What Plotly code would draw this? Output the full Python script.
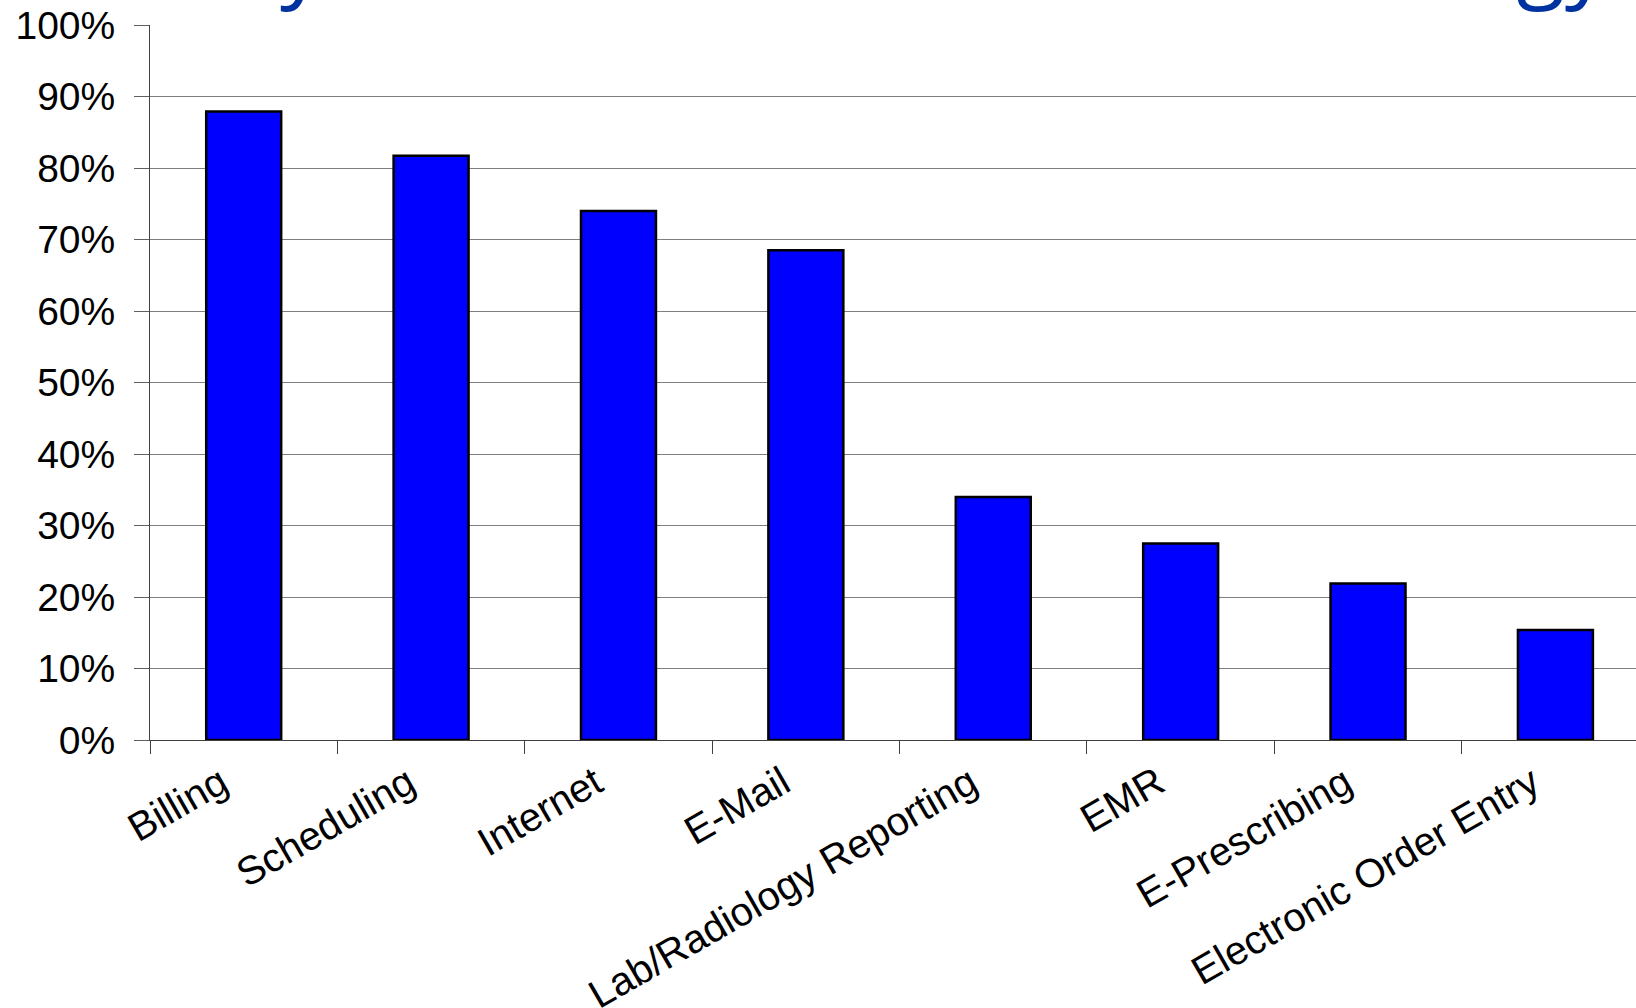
import plotly.graph_objects as go

categories = ["Billing", "Scheduling", "Internet", "E-Mail", "Lab/Radiology Reporting",
              "EMR", "E-Prescribing", "Electronic Order Entry"]
values = [0.879, 0.817, 0.740, 0.685, 0.340, 0.275, 0.219, 0.154]
y_ticks = [0, 0.1, 0.2, 0.3, 0.4, 0.5, 0.6, 0.7, 0.8, 0.9, 1.0]
y_tick_labels = ["0%", "10%", "20%", "30%", "40%", "50%", "60%", "70%", "80%", "90%", "100%"]
title_text = "Physician Office Use of Technology"

fig = go.Figure()
fig.add_trace(go.Bar(
    x=categories, y=values, width=0.4,
    marker=dict(color="#0000FF", line=dict(color="#000000", width=2.5)),
))

font = "Liberation Sans, Arial, sans-serif"
fig.update_layout(
    width=1636, height=1008,
    margin=dict(l=150, r=0, t=25, b=268),
    paper_bgcolor="white", plot_bgcolor="white",
    showlegend=False,
    bargap=0.6,
    font=dict(family=font, size=39, color="black"),
)
fig.update_xaxes(
    type="category", range=[-0.5, 7.43], automargin=False,
    tickangle=-30, tickson="boundaries",
    ticks="outside", ticklen=13, tickwidth=1, tickcolor="#404040",
    showline=True, linecolor="#404040", linewidth=1,
    showgrid=False, ticklabelshift=-23, ticklabelstandoff=3,
    tickfont=dict(family=font, size=40, color="black"),
)
fig.update_yaxes(
    range=[0, 1], tickvals=y_ticks, ticktext=y_tick_labels, automargin=False,
    ticks="outside", ticklen=15, tickwidth=1, tickcolor="#606060",
    showline=True, linecolor="#404040", linewidth=1,
    showgrid=True, gridcolor="#7f7f7f", gridwidth=1,
    zeroline=False, ticklabelstandoff=11,
    tickfont=dict(family=font, size=39, color="black"),
)
fig.add_annotation(
    text=title_text, xref="paper", yref="paper",
    x=(170 - 150) / 1486, y=1 + (25 + 44) / 715,
    xanchor="left", yanchor="middle", showarrow=False,
    font=dict(family="Open Sans, sans-serif", size=89, color="#0033A0"),
)
fig.write_html("out.html")
